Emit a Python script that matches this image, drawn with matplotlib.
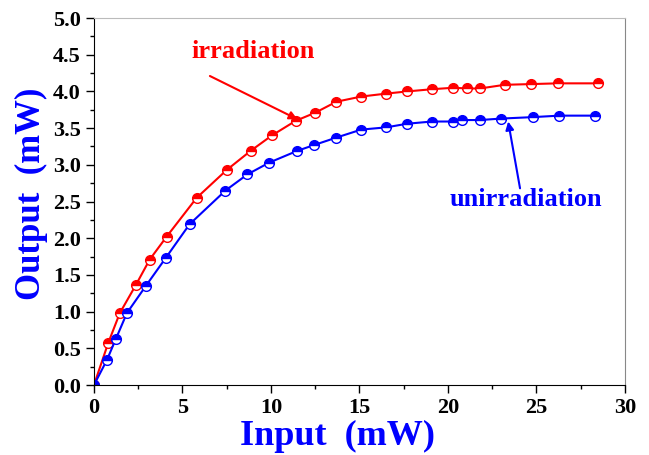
import matplotlib
matplotlib.use("Agg")
import matplotlib.pyplot as plt
from matplotlib.ticker import MultipleLocator

plt.rcParams["font.family"] = "Liberation Serif"
plt.rcParams["font.weight"] = "bold"

# irradiated fibre
irr_in = [0, 0.8, 1.46, 2.36, 3.15, 4.1, 5.8, 7.5, 8.85, 10.05, 11.4, 12.5,
          13.7, 15.1, 16.5, 17.7, 19.1, 20.3, 21.1, 21.8, 23.2, 24.7, 26.2, 28.5]
irr_out = [0, 0.57, 0.98, 1.36, 1.71, 2.02, 2.55, 2.93, 3.19, 3.40, 3.60, 3.71,
           3.86, 3.93, 3.97, 4.00, 4.03, 4.05, 4.04, 4.04, 4.09, 4.10, 4.11, 4.11]

# unirradiated fibre
unirr_in = [0, 0.73, 1.24, 1.86, 2.93, 4.05, 5.4, 7.43, 8.67, 9.9, 11.48, 12.44,
            13.68, 15.1, 16.5, 17.7, 19.1, 20.3, 20.8, 21.8, 23.0, 24.8, 26.3, 28.3]
unirr_out = [0, 0.34, 0.63, 0.98, 1.35, 1.73, 2.19, 2.65, 2.87, 3.03, 3.19, 3.27,
             3.37, 3.48, 3.51, 3.56, 3.59, 3.59, 3.61, 3.61, 3.63, 3.65, 3.67, 3.67]

fig = plt.figure(figsize=(6.49, 4.55), dpi=100)
ax = fig.add_axes([0.1448, 0.1538, 0.8182, 0.8066])

ax.plot(irr_in, irr_out, color="red", lw=1.5, marker="o", ms=7,
        fillstyle="top", markerfacecoloralt="white", mew=1.0)
ax.plot(unirr_in, unirr_out, color="blue", lw=1.5, marker="o", ms=7,
        fillstyle="top", markerfacecoloralt="white", mew=1.0)

# labels and arrows
ax.text(8.98, 4.55, "irradiation", color="red", fontsize=19,
        ha="center", va="center")
ax.annotate("", xy=(11.5, 3.62), xytext=(6.55, 4.21),
            arrowprops=dict(arrowstyle="-|>", color="red", lw=1.5,
                            shrinkA=0, shrinkB=0, mutation_scale=12))
ax.text(24.4, 2.53, "unirradiation", color="blue", fontsize=19,
        ha="center", va="center")
ax.annotate("", xy=(23.4, 3.59), xytext=(24.07, 2.68),
            arrowprops=dict(arrowstyle="-|>", color="blue", lw=1.5,
                            shrinkA=0, shrinkB=0, mutation_scale=12))

ax.set_xlim(0, 30)
ax.set_ylim(0, 5)
ax.xaxis.set_major_locator(MultipleLocator(5))
ax.xaxis.set_minor_locator(MultipleLocator(2.5))
ax.yaxis.set_major_locator(MultipleLocator(0.5))
ax.yaxis.set_minor_locator(MultipleLocator(0.25))
ax.yaxis.set_major_formatter(plt.FormatStrFormatter("%.1f"))
ax.tick_params(which="major", direction="out", length=6, width=1, labelsize=16)
ax.tick_params(which="minor", direction="out", length=3, width=1)
ax.tick_params(top=False, right=False)
ax.spines["top"].set_color("#bbbbbb")
ax.spines["right"].set_color("#888888")

ax.set_xlabel("Input  (mW)", color="blue", fontsize=26, fontweight="bold")
ax.xaxis.set_label_coords(0.458, -0.095)
ax.set_ylabel("Output  (mW)", color="blue", fontsize=25, fontweight="bold")
ax.yaxis.set_label_coords(-0.087, 0.522)

fig.savefig("out.png", dpi=100)
